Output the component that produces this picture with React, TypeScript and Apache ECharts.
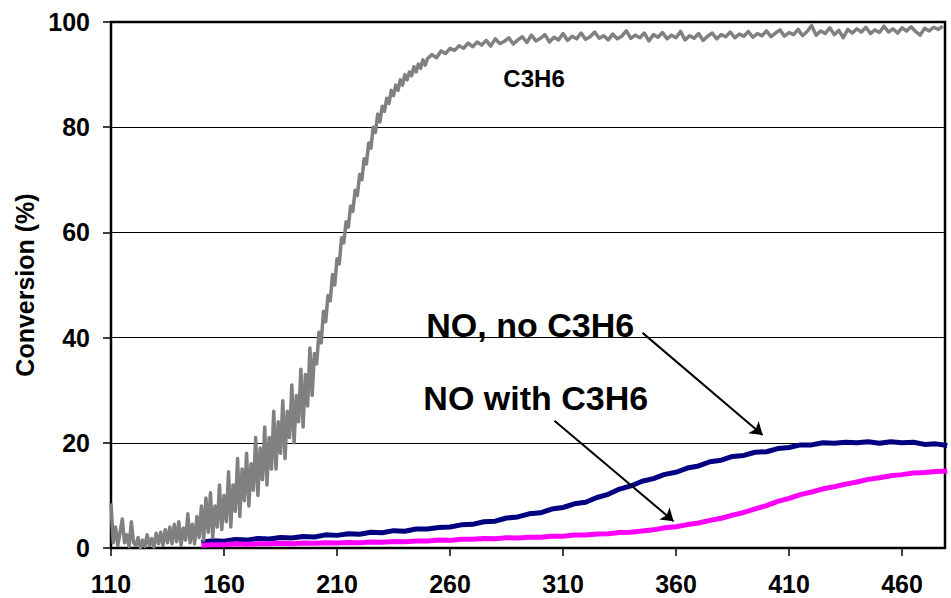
import React, { useEffect, useRef } from "react";
import * as echarts from "echarts";

const xTicks = [110, 160, 210, 260, 310, 360, 410, 460];
const yTicks = [0, 20, 40, 60, 80, 100];

// C3H6 conversion, 110..249 step 1
const c3h6StartA = 110;
const c3h6StepA = 1;
const c3h6A = [
  8.5, 1, 4, 0.5, 3, 5.5, 1, 2.5, 0.3, 5,
  1, 0.5, 2, 0, 1.5, 0.3, 2.5, 0.5, 1.8, 0.2,
  2.8, 0.8, 3, 0.5, 3.5, 1, 4, 0.8, 4.5, 1.2,
  5, 0.5, 3.8, 1.5, 6.5, 1, 4.5, 0.8, 6, 2,
  8, 1.5, 9.5, 3, 10.5, 2, 8, 4, 12, 3.5,
  10, 5, 14.5, 4, 12, 7, 17, 6, 15, 9,
  18, 8, 16, 11, 21, 10, 19, 13, 23, 12,
  21, 15, 26, 15, 24, 18, 28, 17, 26, 21,
  31, 20, 29, 24, 34, 23, 33, 27, 38, 29,
  37, 35, 41, 39, 45, 43, 48, 47, 52, 50,
  55, 54, 59, 58, 62, 61, 65, 64, 68, 67,
  71, 70, 74, 73, 77, 76, 80, 79, 82.5, 81,
  84, 83, 85.5, 84.5, 87, 86, 88, 87, 89, 88,
  90, 89, 90.5, 89.8, 91.5, 90.5, 92, 91.2, 92.8, 91.8,
];
// C3H6 conversion, 250..478 step 2
const c3h6StartB = 250;
const c3h6StepB = 2;
const c3h6B = [
  93, 93.8, 93.2, 94.5, 94, 95, 94.6, 95.5, 95, 96,
  95.3, 96.2, 95.6, 96.5, 95.4, 96.8, 95.9, 96.3, 97, 95.8,
  96.6, 97.2, 96.1, 97.5, 96.4, 96.9, 97.6, 96.2, 97.1, 96.6,
  97.8, 96.5, 97.3, 96.8, 97.9, 96.7, 97.2, 98.1, 96.9, 97.4,
  96.6, 97.7, 96.8, 97.3, 98.3, 96.9, 97.5, 97.0, 97.9, 96.4,
  97.6, 97.1, 98.0, 96.8, 97.5, 97.0, 98.2, 96.6, 97.4, 96.9,
  97.8, 96.5, 97.3, 97.9, 96.8, 97.6, 97.2, 98.1, 97.0, 97.7,
  97.3, 98.2, 97.1, 97.8, 97.4, 98.3, 97.2, 97.9, 98.5, 97.3,
  98.0, 97.6, 98.6, 97.4, 98.2, 99.3, 97.5, 98.3, 97.8, 98.9,
  97.6, 98.4, 97.0, 98.6, 97.9, 98.7, 98.1, 99.0, 97.8, 98.5,
  98.0, 99.2, 98.1, 98.7, 97.9, 98.9, 98.3, 99.1, 98.2, 97.5,
  98.8, 98.3, 99.0, 98.6, 99.2,
];

// NO series, 150..480 step 5
const noStart = 150;
const noStep = 5;
const noNoC3H6 = [
  1.1, 1.4, 1.3, 1.6, 1.5, 1.8, 1.7, 2.0, 1.9, 2.2,
  2.1, 2.5, 2.4, 2.7, 2.6, 3.0, 2.9, 3.3, 3.2, 3.6,
  3.6, 3.9, 4.0, 4.4, 4.5, 5.0, 5.1, 5.7, 5.9, 6.5,
  6.7, 7.4, 7.7, 8.4, 8.7, 9.6, 10.2, 11.2, 11.8, 12.7,
  13.2, 14.0, 14.4, 15.2, 15.6, 16.4, 16.7, 17.4, 17.6, 18.2,
  18.3, 18.9, 19.1, 19.6, 19.6, 20.0, 19.9, 20.1, 20.0, 20.2,
  19.9, 20.2, 20.0, 20.1, 19.7, 19.8, 19.5,
];
const noWithC3H6 = [
  0.5, 0.6, 0.6, 0.8, 0.7, 0.8, 0.8, 0.9, 0.8, 0.95,
  0.9, 1.0, 0.95, 1.05, 1.0, 1.15, 1.1, 1.25, 1.2, 1.35,
  1.35, 1.5, 1.45, 1.65, 1.65, 1.8, 1.75, 1.95, 1.9, 2.05,
  2.05, 2.25, 2.25, 2.45, 2.45, 2.65, 2.7, 2.95, 3.0, 3.25,
  3.45, 3.85, 4.05, 4.45, 4.75, 5.25, 5.65, 6.25, 6.75, 7.45,
  8.05, 8.85, 9.45, 10.15, 10.65, 11.25, 11.65, 12.15, 12.55, 13.05,
  13.35, 13.75, 13.95, 14.25, 14.35, 14.55, 14.65,
];

const annotations = [
  { text: "C3H6", x: 283.6, y: 89.3, size: 24 },
  { text: "NO, no C3H6", x: 249.5, y: 42.4, size: 34 },
  { text: "NO with C3H6", x: 248.2, y: 28.6, size: 34 },
];
const arrows = [
  { from: [345.2, 40.9], to: [398.3, 21.5] },
  { from: [306.2, 24.2], to: [358.9, 5.1] },
];

const FONT = "'Liberation Sans', Arial, Helvetica, sans-serif";

function toPairs(start: number, step: number, vals: number[]) {
  return vals.map((v, i) => [start + i * step, v]);
}

export default function App() {
  const ref = useRef<HTMLDivElement>(null);
  useEffect(() => {
    document.body.style.margin = "0";
    if (!ref.current) return;
    const chart = echarts.init(ref.current, null, { renderer: "svg" });
    const c3h6 = [...toPairs(c3h6StartA, c3h6StepA, c3h6A), ...toPairs(c3h6StartB, c3h6StepB, c3h6B)];
    chart.setOption({
      animation: false,
      backgroundColor: "#ffffff",
      grid: {
        left: 111,
        right: 6,
        top: 22,
        bottom: 50,
        show: true,
        borderColor: "#000",
        borderWidth: 2.5,
        containLabel: false,
      },
      xAxis: {
        type: "value",
        min: 110,
        max: 479,
        axisLine: { show: false },
        axisTick: {
          show: true,
          inside: false,
          length: 8,
          customValues: xTicks,
          lineStyle: { color: "#000", width: 1.5 },
        },
        axisLabel: {
          customValues: xTicks,
          margin: 23,
          fontSize: 25,
          fontWeight: "bold",
          fontFamily: FONT,
          color: "#000",
        },
        splitLine: { show: false },
      },
      yAxis: {
        type: "value",
        min: 0,
        max: 100,
        interval: 20,
        name: "Conversion (%)",
        nameLocation: "middle",
        nameGap: 67,
        nameTextStyle: { fontSize: 25, fontWeight: "bold", fontFamily: FONT, color: "#000" },
        axisLine: { show: false },
        axisTick: { show: true, length: 8, lineStyle: { color: "#000", width: 1.5 } },
        axisLabel: {
          margin: 21,
          fontSize: 25,
          fontWeight: "bold",
          fontFamily: FONT,
          color: "#000",
          customValues: yTicks,
        },
        splitLine: { show: true, lineStyle: { color: "#000", width: 1 } },
      },
      series: [
        {
          name: "NO, no C3H6",
          type: "line",
          data: toPairs(noStart, noStep, noNoC3H6),
          showSymbol: false,
          lineStyle: { color: "#000080", width: 5 },
          itemStyle: { color: "#000080" },
          markLine: {
            silent: true,
            symbol: ["none", "arrow"],
            symbolSize: 12,
            label: { show: false },
            lineStyle: { color: "#000", width: 2, type: "solid" },
            itemStyle: { color: "#000" },
            data: arrows.map((a) => [{ coord: a.from }, { coord: a.to }]),
          },
        },
        {
          name: "NO with C3H6",
          type: "line",
          data: toPairs(noStart, noStep, noWithC3H6),
          showSymbol: false,
          lineStyle: { color: "#FF00FF", width: 5 },
          itemStyle: { color: "#FF00FF" },
        },
        {
          name: "C3H6",
          type: "line",
          data: c3h6,
          showSymbol: false,
          lineStyle: { color: "#808080", width: 3.5, join: "round" },
          itemStyle: { color: "#808080" },
        },
      ],
    });
    const graphic = annotations.map((a) => {
      const p = chart.convertToPixel({ xAxisIndex: 0, yAxisIndex: 0 }, [a.x, a.y]) as number[];
      return {
        type: "text",
        x: p[0],
        y: p[1],
        z: 100,
        style: {
          text: a.text,
          fill: "#000",
          font: `bold ${a.size}px ${FONT}`,
          align: "left",
          verticalAlign: "middle",
        },
      };
    });
    chart.setOption({ graphic });
    return () => chart.dispose();
  }, []);
  return <div ref={ref} style={{ width: 951, height: 598 }} />;
}
